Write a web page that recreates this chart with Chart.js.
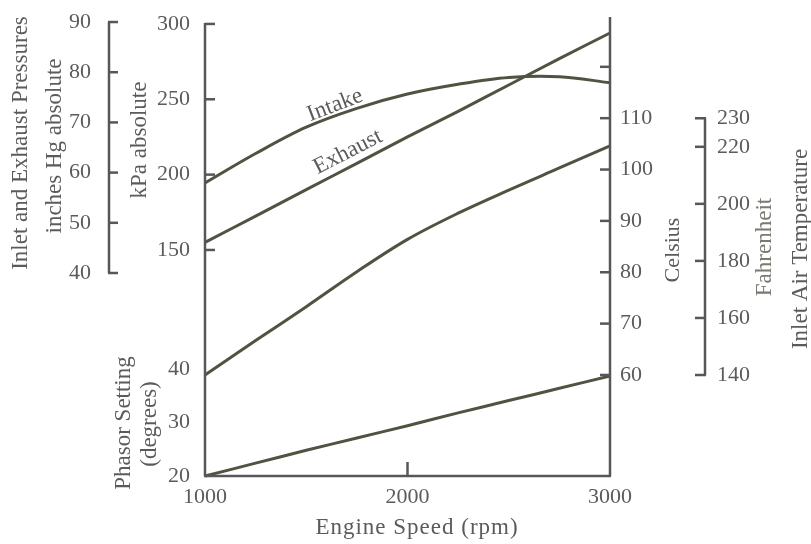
<!DOCTYPE html>
<html><head><meta charset="utf-8">
<script src="https://cdn.jsdelivr.net/npm/chart.js@4"></script>
<style>html,body{margin:0;padding:0;background:#fff;}#wrap{width:811px;height:544px;}</style>
</head><body><div id="wrap"><canvas id="c" width="811" height="544"></canvas></div>
<script>
// ---- data ----
const rpm = [1000, 1250, 1500, 1750, 2000, 2250, 2500, 2750, 3000];
const intakeKPa = [194.5, 214, 231.5, 244, 253.5, 260, 264.5, 265, 261];
const exhaustKPa = [155, 172.5, 190, 207.5, 225, 242, 259.5, 277, 294];
const inletAirC = [60, 66.7, 73.3, 80.1, 86.4, 91.5, 96, 100.3, 104.6];
const phasorDeg = [20, 22.4, 24.8, 27.1, 29.4, 31.8, 34.1, 36.4, 38.7];

const xTicks = [1000, 2000, 3000];
const xMinorTicks = [2000];
const kpaTicks = [150, 200, 250, 300];
const inHgTicks = [40, 50, 60, 70, 80, 90];
const phasorTicks = [20, 30, 40];
const celsiusTicks = [60, 70, 80, 90, 100, 110];
const celsiusUnlabeled = [120];
const fahrenheitTicks = [140, 160, 180, 200, 220, 230];

const LINE = '#4f5341';
const AXIS = '#55575a';
const TEXT = '#5b5b5b';
const FONT = '"Liberation Serif", "Times New Roman", serif';

function text(ctx, str, x, y, opt) {
  opt = opt || {};
  ctx.save();
  ctx.translate(x, y);
  if (opt.rot) ctx.rotate(opt.rot);
  ctx.font = (opt.size || 22) + 'px ' + FONT;
  ctx.fillStyle = opt.color || TEXT;
  ctx.textAlign = opt.align || 'center';
  ctx.textBaseline = 'middle';
  if (opt.spacing) ctx.letterSpacing = opt.spacing;
  ctx.fillText(str, 0, 0);
  ctx.restore();
}

const axesPlugin = {
  id: 'axes',
  afterDatasetsDraw(chart) {
    const { ctx, chartArea: a, scales: s } = chart;
    ctx.save();
    ctx.strokeStyle = AXIS;
    ctx.lineWidth = 2.5;
    ctx.lineCap = 'butt';
    const seg = (x1, y1, x2, y2) => { ctx.beginPath(); ctx.moveTo(x1, y1); ctx.lineTo(x2, y2); ctx.stroke(); };

    // kPa axis (left of plot)
    const kx = a.left;
    seg(kx, s.kpa.getPixelForValue(300) - 1, kx, a.bottom);
    kpaTicks.forEach(v => {
      const y = s.kpa.getPixelForValue(v);
      seg(kx, y, kx + 10, y);
      text(ctx, String(v), 190, y, { align: 'right' });
    });

    // bottom axis
    seg(a.left - 1, a.bottom, a.right + 1, a.bottom);
    xMinorTicks.forEach(v => {
      const x = s.x.getPixelForValue(v);
      seg(x, a.bottom, x, a.bottom - 14);
    });
    xTicks.forEach(v => text(ctx, String(v), s.x.getPixelForValue(v), 497));
    text(ctx, 'Engine Speed (rpm)', 417, 528, { size: 23, spacing: '1px' });

    // right Celsius axis
    const rx = a.right;
    seg(rx, a.top, rx, a.bottom);
    celsiusTicks.concat(celsiusUnlabeled).forEach(v => {
      const y = s.cel.getPixelForValue(v);
      seg(rx - 10, y, rx, y);
    });
    celsiusTicks.forEach(v => text(ctx, String(v), 620, s.cel.getPixelForValue(v), { align: 'left' }));

    // inches Hg bracket
    const hx = 109;
    seg(hx, s.inhg.getPixelForValue(90), hx, s.inhg.getPixelForValue(40));
    inHgTicks.forEach(v => {
      const y = s.inhg.getPixelForValue(v);
      seg(hx - 1, y, hx + 9, y);
      text(ctx, String(v), 91, y, { align: 'right' });
    });

    // Fahrenheit bracket
    const fx = 705;
    seg(fx, s.fah.getPixelForValue(230), fx, s.fah.getPixelForValue(140));
    fahrenheitTicks.forEach(v => {
      const y = s.fah.getPixelForValue(v);
      seg(fx - 10, y, fx + 1, y);
      text(ctx, String(v), 717, y, { align: 'left' });
    });

    // phasor labels
    phasorTicks.forEach(v => text(ctx, String(v), 190, s.phasor.getPixelForValue(v), { align: 'right' }));

    // axis titles
    const R = -Math.PI / 2;
    text(ctx, 'Inlet and Exhaust Pressures', 21, 143, { rot: R, size: 23 });
    text(ctx, 'inches Hg absolute', 55, 146, { rot: R, size: 23 });
    text(ctx, 'kPa absolute', 140, 140, { rot: R, size: 23 });
    text(ctx, 'Phasor Setting', 124, 423, { rot: R, size: 23 });
    text(ctx, '(degrees)', 150, 424, { rot: R, size: 23 });
    text(ctx, 'Celsius', 673, 250, { rot: R, size: 22 });
    text(ctx, 'Fahrenheit', 765, 247, { rot: R, size: 23, color: '#7a7a72' });
    text(ctx, 'Inlet Air Temperature', 801, 249, { rot: R, size: 23 });

    // curve labels
    text(ctx, 'Intake', s.x.getPixelForValue(1642), s.kpa.getPixelForValue(246), { rot: -21 * Math.PI / 180, size: 23 });
    text(ctx, 'Exhaust', s.x.getPixelForValue(1706), s.kpa.getPixelForValue(215), { rot: -27 * Math.PI / 180, size: 23 });
    ctx.restore();
  }
};

const pts = ys => rpm.map((x, i) => ({ x: x, y: ys[i] }));
const ds = (label, ys, axis) => ({
  label: label, data: pts(ys), yAxisID: axis, borderColor: LINE, borderWidth: 3,
  pointRadius: 0, fill: false, tension: 0.35, clip: 4
});

new Chart(document.getElementById('c'), {
  type: 'line',
  data: {
    datasets: [
      ds('Intake', intakeKPa, 'kpa'),
      ds('Exhaust', exhaustKPa, 'kpa'),
      ds('Inlet Air Temperature', inletAirC, 'cel'),
      ds('Phasor Setting', phasorDeg, 'phasor')
    ]
  },
  options: {
    responsive: false,
    animation: false,
    layout: { padding: { left: 205, right: 201, top: 17, bottom: 68 } },
    plugins: { legend: { display: false }, tooltip: { enabled: false }, title: { display: false } },
    scales: {
      x: { type: 'linear', min: 1000, max: 3000, display: false },
      kpa: { axis: 'y', position: 'left', type: 'linear', min: 0, max: 304.6, display: false },
      inhg: { axis: 'y', position: 'left', type: 'linear', min: -0.44, max: 91.0, display: false },
      phasor: { axis: 'y', position: 'left', type: 'linear', min: 20, max: 105.8, display: false },
      cel: { axis: 'y', position: 'right', type: 'linear', min: 40.33, max: 129.7, display: false },
      fah: { axis: 'y', position: 'right', type: 'linear', min: 104.6, max: 265.5, display: false }
    }
  },
  plugins: [axesPlugin]
});
</script>
</body></html>
